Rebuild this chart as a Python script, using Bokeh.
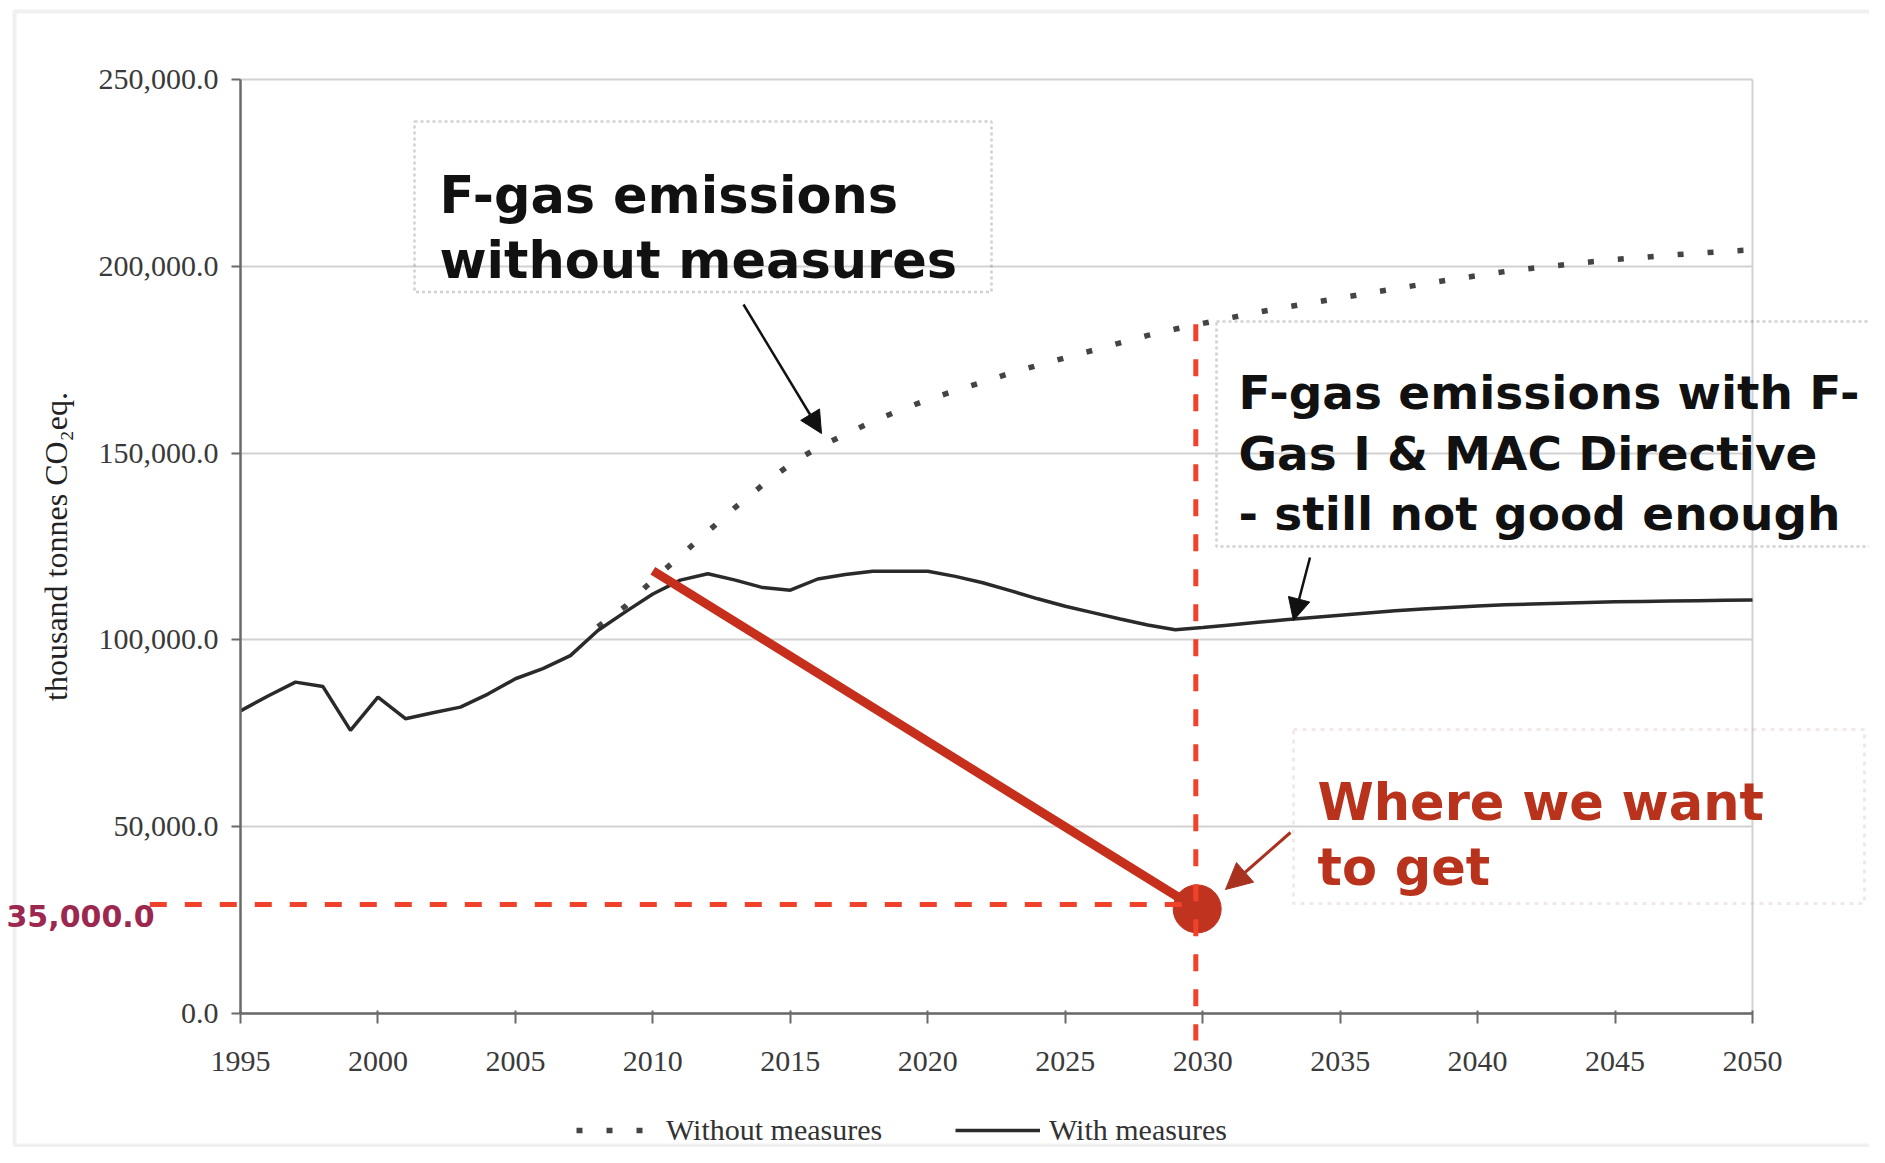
from bokeh.plotting import figure
from bokeh.models import (Range1d, FixedTicker, NumeralTickFormatter, Label, BoxAnnotation,
                          Arrow, NormalHead, Legend, LegendItem)
from bokeh.embed import file_html
from bokeh.resources import INLINE

# ---------------- data ----------------
years_with = list(range(1995, 2051))
with_measures = [81000, 85000, 88700, 87500, 75800, 84700, 78900, 80500, 82000, 85500,
                 89600, 92300, 95800, 102500, 107500, 112300, 116000, 117700, 116000, 114000,
                 113300, 116300, 117500, 118400, 118400, 118400, 117000, 115300, 113200, 111000,
                 109000, 107300, 105600, 104000, 102700, 103300, 104000, 104700, 105400, 106000,
                 106600, 107200, 107800, 108300, 108700, 109100, 109400, 109600, 109800, 110000,
                 110200, 110300, 110400, 110500, 110600, 110700]
years_without = list(range(2008, 2051))
without_measures = [103500, 109000, 116000, 122500, 129000, 135500, 141500, 147000, 151500, 155000,
                    158500, 161500, 164300, 166700, 169000, 171400, 173500, 175500, 177500, 179500,
                    181500, 183200, 184700, 186200, 187700, 189000, 190300, 191500, 192800, 194000,
                    195200, 196400, 197500, 198600, 199500, 200300, 201100, 201800, 202400, 203000,
                    203500, 204000, 204400]
target_line_years = [2010, 2029.8]
target_line_values = [118500, 28000]
target_year = 2029.75
target_value = 29200
target_label = "35,000.0"
vline_values = [184500, -7200]
hline_years = [1991.7, 2029.75]

x_ticks = [1995, 2000, 2005, 2010, 2015, 2020, 2025, 2030, 2035, 2040, 2045, 2050]
y_ticks = [0, 50000, 100000, 150000, 200000, 250000]
series_names = ["Without measures", "With measures"]

# ---------------- layout (reference pixel -> data helpers) ----------------
W, H = 1869, 1147
SX = (1752 - 240) / 55.0
SY = 934 / 250000.0
X0 = 1995 - 240 / SX
X1 = X0 + W / SX
Y1 = 250000 + 79 / SY
Y0 = Y1 - H / SY


def fx(px):
    return X0 + px / SX


def fy(py):
    return Y1 - py / SY


p = figure(width=W, height=H, x_range=Range1d(X0, X1), y_range=Range1d(Y0, Y1),
           output_backend="svg", toolbar_location=None, min_border=0,
           min_border_left=0, min_border_right=0, min_border_top=0, min_border_bottom=0)
p.outline_line_color = None
p.background_fill_color = "white"
p.border_fill_color = "white"

# axes
xa = p.xaxis[0]
xa.fixed_location = 0
xa.bounds = (1995, 2050)
xa.ticker = FixedTicker(ticks=x_ticks)
xa.minor_tick_line_color = None
xa.major_tick_out = 10
xa.major_tick_in = 3
xa.axis_line_color = "#6a6a6a"
xa.axis_line_width = 2.5
xa.major_tick_line_color = "#6a6a6a"
xa.major_tick_line_width = 2
xa.major_label_text_font = "Liberation Serif"
xa.major_label_text_font_size = "30px"
xa.major_label_text_color = "#3a3a3a"
xa.major_label_standoff = 28

ya = p.yaxis[0]
ya.fixed_location = 1995
ya.bounds = (0, 250000)
ya.ticker = FixedTicker(ticks=y_ticks)
ya.formatter = NumeralTickFormatter(format="0,0.0")
ya.minor_tick_line_color = None
ya.major_tick_out = 9
ya.major_tick_in = 0
ya.axis_line_color = "#6a6a6a"
ya.axis_line_width = 2.5
ya.major_tick_line_color = "#6a6a6a"
ya.major_tick_line_width = 2
ya.major_label_text_font = "Liberation Serif"
ya.major_label_text_font_size = "30px"
ya.major_label_text_color = "#3a3a3a"
ya.major_label_standoff = 13
ya.axis_label = "thousand tonnes CO\u2082eq."
ya.axis_label_text_font = "Liberation Serif"
ya.axis_label_text_font_size = "32px"
ya.axis_label_text_font_style = "normal"
ya.axis_label_text_color = "#222222"
ya.axis_label_standoff = 22

# grids
yg = p.ygrid[0]
xg = p.xgrid[0]
yg.ticker = FixedTicker(ticks=y_ticks)
yg.grid_line_color = "#d2d2d2"
yg.grid_line_width = 2
xg.ticker = FixedTicker(ticks=[x_ticks[-1]])
xg.grid_line_color = "#d2d2d2"
xg.grid_line_width = 2
try:
    yg.cross_bounds = (x_ticks[0], x_ticks[-1])
    xg.cross_bounds = (y_ticks[0], y_ticks[-1])
except Exception:
    yg.visible = False
    xg.visible = False
    p.segment(x0=[x_ticks[0]] * len(y_ticks[1:]), x1=[x_ticks[-1]] * len(y_ticks[1:]),
              y0=y_ticks[1:], y1=y_ticks[1:], line_color="#d2d2d2", line_width=2)
    p.segment(x0=[x_ticks[-1]], x1=[x_ticks[-1]], y0=[y_ticks[0]], y1=[y_ticks[-1]],
              line_color="#d2d2d2", line_width=2)

# outer frame
p.add_layout(BoxAnnotation(left=fx(14), right=fx(2000), top=fy(11), bottom=fy(1145),
                           fill_color=None, line_color="#cccccc", line_width=4))

# series
r_without = p.line(years_without, without_measures, line_color="#444444", line_width=5.5,
                   line_dash="6 24")
r_with = p.line(years_with, with_measures, line_color="#2a2a2a", line_width=3.5)

# target path
p.line(target_line_years, target_line_values, line_color="#c62f1b", line_width=9)
p.scatter([target_line_years[-1]], [target_line_values[-1]], size=48, fill_color="#c0331f",
          line_color="#c0331f")
p.line(hline_years, [target_value, target_value], line_color="#f0412a", line_width=5,
       line_dash="17 18")
p.line([target_year, target_year], vline_values, line_color="#f0412a", line_width=5,
       line_dash="17 18")

# callout boxes
p.add_layout(BoxAnnotation(left=fx(414), right=fx(991), top=fy(121), bottom=fy(291.5),
                           fill_color=None, line_color="#666666", line_width=2.5, line_dash="3 3"))
p.add_layout(BoxAnnotation(left=fx(1216), right=fx(1950), top=fy(321), bottom=fy(546),
                           fill_color=None, line_color="#666666", line_width=2.5, line_dash="3 3"))
p.add_layout(BoxAnnotation(left=fx(1293), right=fx(1864), top=fy(729), bottom=fy(903),
                           fill_color=None, line_color="#d6b4b4", line_width=3, line_dash="4 5"))


def txt(s, px, py, size, color="#111111"):
    p.add_layout(Label(x=fx(px), y=fy(py), text=s, text_font="DejaVu Sans",
                       text_font_style="bold", text_font_size=size, text_color=color,
                       text_baseline="alphabetic", text_align="left"))


txt("F-gas emissions", 439, 195, "51px")
txt("without measures", 439, 260, "51px")
txt("F-gas emissions with F-", 1238, 392, "47px")
txt("Gas I & MAC Directive", 1238, 453, "47px")
txt("- still not good enough", 1238, 513, "47px")
txt("Where we want", 1317, 802, "51px", "#b8321c")
txt("to get", 1317, 867, "51px", "#b8321c")

p.add_layout(Label(x=fx(6), y=fy(915), text=target_label, text_font="DejaVu Sans",
                   text_font_style="bold", text_font_size="30px", text_color="#9c2850",
                   text_baseline="alphabetic", text_align="left"))

# arrows
p.add_layout(Arrow(end=NormalHead(size=22, fill_color="#111111", line_color="#111111"),
                   x_start=fx(743), y_start=fy(304), x_end=fx(821), y_end=fy(433),
                   line_width=2.5, line_color="#111111"))
p.add_layout(Arrow(end=NormalHead(size=22, fill_color="#111111", line_color="#111111"),
                   x_start=fx(1309.5), y_start=fy(557), x_end=fx(1293), y_end=fy(620),
                   line_width=2.5, line_color="#111111"))
p.add_layout(Arrow(end=NormalHead(size=26, fill_color="#a8321f", line_color="#a8321f"),
                   x_start=fx(1290), y_start=fy(832), x_end=fx(1225), y_end=fy(889),
                   line_width=3, line_color="#a8321f"))

# legends
common = dict(orientation="horizontal", padding=0, margin=0, border_line_color=None,
              background_fill_alpha=0, glyph_height=30, label_height=30,
              label_text_font="Liberation Serif", label_text_font_size="30px",
              label_text_color="#333333")
leg1 = Legend(items=[LegendItem(label=series_names[0], renderers=[r_without])],
              location=(576, 0), glyph_width=68, label_standoff=22, **common)
leg2 = Legend(items=[LegendItem(label=series_names[1], renderers=[r_with])],
              location=(955, 0), glyph_width=85, label_standoff=9, **common)
p.add_layout(leg1)
p.add_layout(leg2)

open("out.html", "w").write(file_html(p, INLINE))
